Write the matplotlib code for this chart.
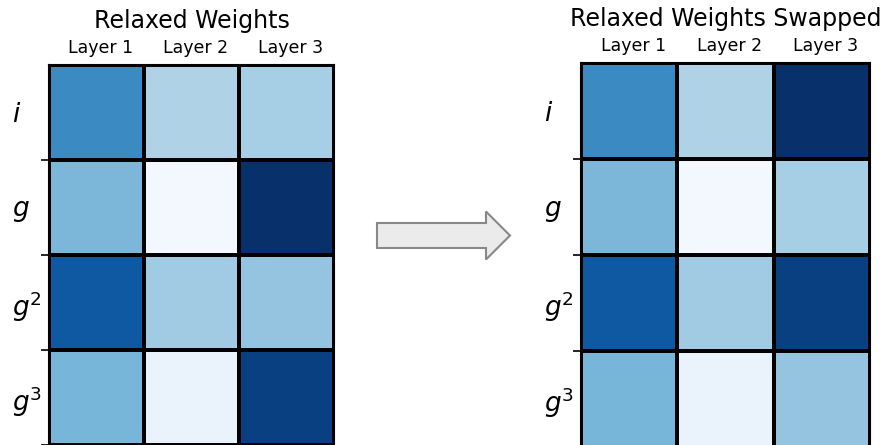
import numpy as np
import matplotlib
matplotlib.use('Agg')
import matplotlib.pyplot as plt
import matplotlib.patches as mpatches
import matplotlib.transforms as mtransforms

# labels
layers = ['Layer 1', 'Layer 2', 'Layer 3']
powers = ['$i$', '$g$', '$g^2$', '$g^3$']

# weights (Blues, 0..1)
relaxed = [
    [0.65, 0.32, 0.35],
    [0.46, 0.02, 1.00],
    [0.84, 0.37, 0.40],
    [0.47, 0.07, 0.94],
]
swapped = [
    [0.65, 0.32, 1.00],
    [0.46, 0.02, 0.35],
    [0.84, 0.37, 0.94],
    [0.47, 0.07, 0.40],
]

W, H = 888, 445
fig = plt.figure(figsize=(W / 100, H / 100), dpi=100)


def px_axes(left, top, width, height):
    # axes placed in pixel units of the final image
    return fig.add_axes([left / W, 1 - (top + height) / H, width / W, height / H])


def draw_heatmap(ax, data, title):
    data = np.array(data)
    nr, nc = data.shape
    ax.pcolormesh(data, cmap='Blues', vmin=0, vmax=1,
                  edgecolors='black', linewidth=1.5)
    ax.set_xlim(0, nc)
    ax.set_ylim(nr, 0)
    for s in ax.spines.values():
        s.set_linewidth(1.5)

    ax.xaxis.tick_top()
    ax.set_xticks(np.arange(nc) + 0.5)
    ax.set_xticklabels(layers, fontsize=12.5)
    ax.tick_params(axis='x', length=0, pad=6)
    # layer names sit a few pixels right of the cell centres
    shift = mtransforms.ScaledTranslation(4 / 100, 0, fig.dpi_scale_trans)
    for lbl in ax.get_xticklabels():
        lbl.set_transform(lbl.get_transform() + shift)

    # ticks at row boundaries, labels at row centres
    ax.set_yticks(np.arange(1, nr + 1))
    ax.set_yticklabels([])
    ax.tick_params(axis='y', which='major', length=6, width=1.2)
    ax.set_yticks(np.arange(nr) + 0.5, minor=True)
    ax.set_yticklabels(powers, minor=True, fontsize=19, ha='left')
    ax.tick_params(axis='y', which='minor', length=0, pad=27)

    ax.set_title(title, fontsize=17, pad=8)


ax1 = px_axes(49, 65, 285, 380)
draw_heatmap(ax1, relaxed, 'Relaxed Weights')

ax2 = px_axes(581, 63, 289, 384)
draw_heatmap(ax2, swapped, 'Relaxed Weights Swapped')

# arrow in the middle
overlay = fig.add_axes([0, 0, 1, 1], zorder=-1)
overlay.set_xlim(0, W)
overlay.set_ylim(H, 0)
overlay.axis('off')
overlay.add_patch(mpatches.FancyArrow(377, 235.5, 133, 0, width=25,
                                      head_width=48, head_length=24,
                                      length_includes_head=True,
                                      facecolor='#ebebeb', edgecolor='#888888',
                                      linewidth=1.5))

fig.savefig('out.png', dpi=100)
